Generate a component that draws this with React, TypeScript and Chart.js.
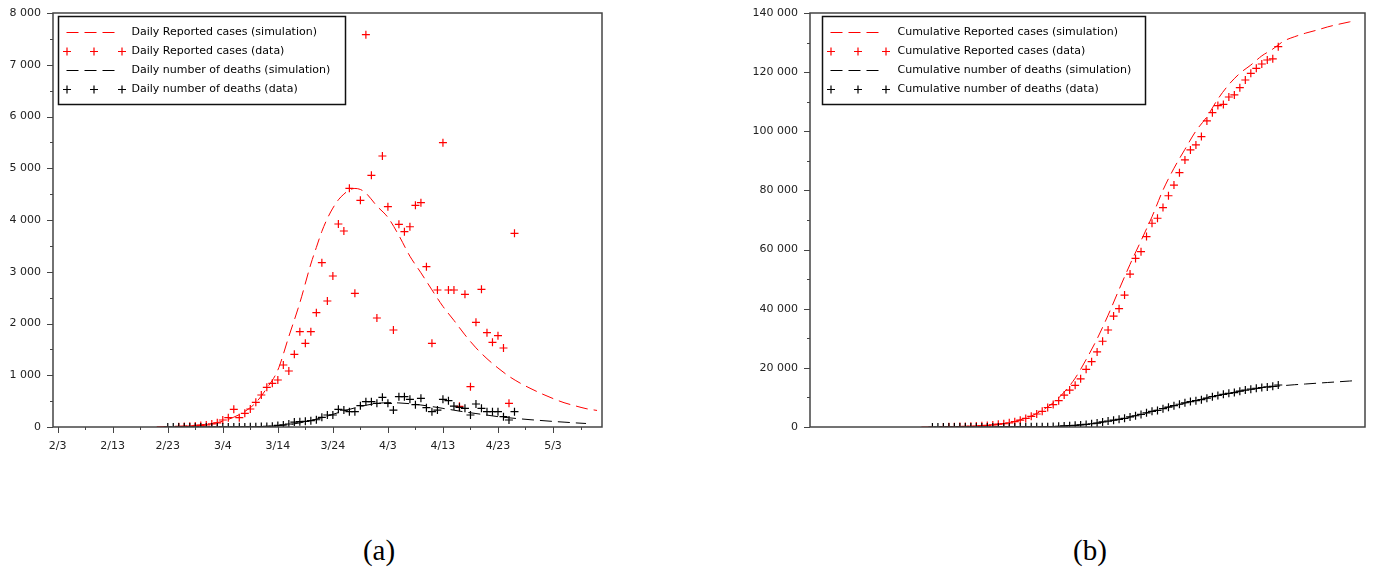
import React, { useEffect, useRef } from 'react';
import { Chart, registerables } from 'chart.js';

Chart.register(...registerables);

// ---------- data (day 0 = Feb 3) ----------
const xTickDays = [0, 10, 20, 30, 40, 50, 60, 70, 80, 90];
const xTickLabels = ['2/3', '2/13', '2/23', '3/4', '3/14', '3/24', '4/3', '4/13', '4/23', '5/3'];

const dailyCasesStart = 22;
const dailyCases = [
  5, 10, 15, 20, 30, 40, 60, 80, 135, 180, 342, 180, 265, 348, 477, 618, 767, 844, 908, 1198,
  1082, 1404, 1842, 1617, 1842, 2209, 3175, 2435, 2918, 3923, 3787, 4612, 2583, 4380, 7581, 4864,
  2106, 5237, 4257, 1874, 3917, 3774, 3870, 4284, 4334, 3098, 1617, 2647, 5494, 2647, 2647, 400,
  2564, 779, 2023, 2661, 1823, 1637, 1765, 1527, 457, 3743,
];

const dailyDeathsStart = 20;
const dailyDeaths = [
  0, 0, 0, 0, 0, 0, 0, 0, 0, 0, 1, 0, 2, 3, 2, 5, 4, 8, 12, 15, 30, 40, 58, 95, 103, 110, 122, 140,
  187, 232, 232, 342, 328, 296, 296, 412, 489, 489, 457, 573, 457, 328, 586, 586, 534, 431, 554,
  373, 296, 328, 534, 508, 405, 380, 361, 232, 444, 361, 296, 296, 296, 199, 135, 296,
];

const simDailyCasesDays = [18, 20, 22, 24, 26, 28, 30, 32, 34, 36, 38, 40, 42, 44, 46, 47, 48, 49, 50, 51, 52, 53, 54, 55, 56, 58, 60, 62, 64, 66, 68, 70, 72, 74, 76, 78, 80, 82, 84, 86, 88, 90, 92, 94, 96, 98];
const simDailyCases = [5, 10, 16, 26, 42, 66, 112, 190, 300, 470, 750, 1100, 1750, 2400, 3150, 3470, 3780, 4030, 4230, 4390, 4500, 4580, 4610, 4590, 4520, 4270, 4050, 3700, 3300, 2980, 2650, 2330, 2060, 1780, 1530, 1320, 1140, 980, 850, 740, 640, 550, 470, 410, 355, 320];

const simDailyDeathsDays = [36, 38, 40, 42, 44, 46, 48, 50, 52, 54, 56, 58, 60, 62, 64, 66, 68, 70, 72, 74, 76, 78, 80, 82, 84, 86, 88, 90, 92, 94, 96];
const simDailyDeaths = [5, 12, 25, 45, 80, 125, 180, 245, 310, 370, 420, 455, 470, 465, 450, 425, 395, 360, 325, 290, 260, 230, 200, 178, 158, 140, 124, 108, 94, 80, 68];

const cumCasesStart = 22;
const cumCases = [
  40, 60, 90, 130, 200, 250, 330, 420, 520, 700, 950, 1130, 1400, 1790, 2300, 2900, 3600, 4400,
  5300, 6600, 7600, 8900, 10800, 12500, 14100, 16300, 19500, 22100, 25400, 29000, 32800, 37500,
  40000, 44600, 51700, 57000, 59300, 64400, 68900, 70600, 74200, 78200, 81800, 86000, 90300,
  93700, 95400, 98200, 103500, 106300, 108700, 109100, 111600, 112300, 114750, 117350, 119600,
  121300, 122760, 124100, 124500, 128600,
];

const cumDeathsStart = 20;
const cumDeaths = [
  0, 0, 0, 0, 0, 0, 0, 0, 0, 0, 5, 8, 12, 18, 25, 35, 48, 60, 75, 90, 100, 120, 160, 240, 350, 450,
  560, 690, 870, 1100, 1330, 1700, 2000, 2300, 2600, 2950, 3400, 3800, 4250, 4800, 5300, 5600,
  6200, 6700, 7200, 7700, 8200, 8600, 8900, 9250, 9750, 10250, 10650, 11050, 11400, 11650, 12100,
  12500, 12800, 13100, 13350, 13550, 13750, 14200,
];

const simCumCasesDays = [18, 20, 22, 24, 26, 28, 30, 32, 34, 36, 38, 40, 42, 44, 46, 48, 50, 52, 54, 56, 58, 60, 62, 64, 66, 68, 70, 72, 74, 76, 78, 80, 82, 84, 86, 88, 90, 92, 94, 96, 97];
const simCumCases = [0, 15, 40, 90, 180, 320, 550, 900, 1500, 2400, 3700, 5600, 8200, 11800, 16500, 22800, 29800, 37800, 46500, 55000, 63000, 71100, 80100, 87500, 93900, 100100, 104900, 110900, 115800, 119600, 122400, 125500, 127800, 130500, 132000, 133200, 134200, 135300, 136200, 137000, 137500];

const simCumDeathsDays = [36, 40, 44, 48, 50, 52, 54, 56, 58, 60, 62, 64, 66, 68, 70, 72, 74, 76, 78, 80, 82, 84, 86, 88, 90, 92, 94, 96, 97];
const simCumDeaths = [0, 60, 300, 900, 1350, 1900, 2600, 3400, 4300, 5300, 6300, 7200, 8100, 8950, 9800, 10700, 11450, 12100, 12700, 13200, 13650, 14000, 14300, 14550, 14800, 15050, 15300, 15550, 15650];

const leftLabels = [
  'Daily Reported cases (simulation)',
  'Daily Reported cases (data)',
  'Daily number of deaths (simulation)',
  'Daily number of deaths (data)',
];
const rightLabels = [
  'Cumulative Reported cases (simulation)',
  'Cumulative Reported cases (data)',
  'Cumulative number of deaths (simulation)',
  'Cumulative number of deaths (data)',
];

const RED = '#ff0000';
const BLACK = '#000000';
const FRAME = '#444444';
const DASH = [12, 6];

// ---------- helpers ----------
const seq = (start: number, vals: number[]) => vals.map((v, i) => ({ x: start + i, y: v }));
const pairs = (days: number[], vals: number[]) => days.map((d, i) => ({ x: d, y: vals[i] }));
const fmt = (v: number) => String(Math.round(v)).replace(/\B(?=(\d{3})+(?!\d))/g, ' ');

const crossDs = (data: any[], color: string) => ({
  data,
  showLine: false,
  pointStyle: 'cross',
  pointRadius: 4,
  pointBorderWidth: 1.2,
  pointBorderColor: color,
  pointBackgroundColor: color,
  borderColor: color,
});
const simDs = (data: any[], color: string) => ({
  data,
  borderColor: color,
  borderWidth: 1,
  borderDash: DASH,
  pointRadius: 0,
  cubicInterpolationMode: 'monotone',
  fill: false,
});

type Cfg = {
  xMin: number; xMax: number; yMax: number; yMajor: number; yMinor: number;
  yAxisW: number; padRight: number; showX: boolean;
  legend: { labels: string[]; dx: number; w: number; sampleX: number; textX: number };
};

function framePlugin(cfg: Cfg) {
  return {
    id: 'frame',
    afterDraw(chart: any) {
      const { ctx, chartArea: a, scales } = chart;
      const xs = scales.x, ys = scales.y;
      ctx.save();
      ctx.strokeStyle = FRAME;
      ctx.lineWidth = 1;
      for (let v = 0; v <= cfg.yMax + 1e-6; v += cfg.yMinor) {
        const py = Math.round(ys.getPixelForValue(v)) + 0.5;
        const major = Math.abs(v / cfg.yMajor - Math.round(v / cfg.yMajor)) < 1e-6;
        const len = major ? 6 : 3;
        ctx.beginPath();
        ctx.moveTo(a.left - len, py);
        ctx.lineTo(a.left, py);
        ctx.stroke();
      }
      if (cfg.showX) {
        for (let d = 0; d <= cfg.xMax; d += 5) {
          const px = Math.round(xs.getPixelForValue(d)) + 0.5;
          const major = d % 10 === 0;
          const len = major ? 6 : 3;
          ctx.beginPath();
          ctx.moveTo(px, a.bottom);
          ctx.lineTo(px, a.bottom + len);
          ctx.stroke();
        }
      }
      ctx.lineWidth = 1.5;
      ctx.strokeRect(a.left, a.top, a.right - a.left, a.bottom - a.top);

      // legend
      const L = cfg.legend;
      const bx = a.left + L.dx, by = a.top + 3.5, bw = L.w, bh = 88;
      ctx.fillStyle = '#ffffff';
      ctx.fillRect(bx, by, bw, bh);
      ctx.strokeStyle = '#111';
      ctx.lineWidth = 1.5;
      ctx.strokeRect(bx, by, bw, bh);
      const rowY = [by + 15.5, by + 34.5, by + 53.5, by + 72.5];
      const kinds = ['line', 'cross', 'line', 'cross'];
      const colors = [RED, RED, BLACK, BLACK];
      ctx.font = '11px "DejaVu Sans"';
      ctx.textBaseline = 'middle';
      ctx.textAlign = 'left';
      L.labels.forEach((lab, i) => {
        const y = rowY[i];
        ctx.strokeStyle = colors[i];
        ctx.lineWidth = 1;
        const sx = bx + L.sampleX;
        if (kinds[i] === 'line') {
          ctx.setLineDash(DASH);
          ctx.beginPath();
          ctx.moveTo(sx, Math.round(y) + 0.5);
          ctx.lineTo(sx + 52, Math.round(y) + 0.5);
          ctx.stroke();
          ctx.setLineDash([]);
        } else {
          ctx.lineWidth = 1.2;
          [0, 27, 55].forEach((o) => {
            const cx = sx + o + 0.5, cy = Math.round(y) + 0.5;
            ctx.beginPath();
            ctx.moveTo(cx - 4, cy); ctx.lineTo(cx + 4, cy);
            ctx.moveTo(cx, cy - 4); ctx.lineTo(cx, cy + 4);
            ctx.stroke();
          });
        }
        ctx.fillStyle = '#000';
        ctx.fillText(lab, bx + L.textX, y + 0.5);
      });
      ctx.restore();
    },
  };
}

function buildChart(canvas: HTMLCanvasElement, cfg: Cfg, datasets: any[]) {
  const yTicks: number[] = [];
  for (let v = 0; v <= cfg.yMax; v += cfg.yMajor) yTicks.push(v);
  return new Chart(canvas, {
    type: 'line',
    data: { datasets },
    options: {
      animation: false,
      responsive: false,
      devicePixelRatio: 1,
      events: [],
      layout: { padding: { top: 13, right: cfg.padRight, left: 0, bottom: 0 } },
      plugins: { legend: { display: false }, tooltip: { enabled: false } },
      scales: {
        x: {
          type: 'linear',
          min: cfg.xMin,
          max: cfg.xMax,
          afterBuildTicks: (s: any) => {
            s.ticks = cfg.showX ? xTickDays.map((v) => ({ value: v })) : [];
          },
          ticks: {
            display: cfg.showX,
            autoSkip: false,
            maxRotation: 0,
            padding: 13,
            color: '#222',
            font: { family: 'DejaVu Sans', size: 11 },
            callback: (v: any) => {
              const i = xTickDays.indexOf(Number(v));
              return i >= 0 ? xTickLabels[i] : '';
            },
          },
          grid: { display: false, drawTicks: false },
          border: { display: false },
          afterFit: (s: any) => {
            s.height = 43;
            s.paddingLeft = 0; s.paddingRight = 0; s.paddingTop = 0; s.paddingBottom = 0;
          },
        },
        y: {
          type: 'linear',
          min: 0,
          max: cfg.yMax,
          afterBuildTicks: (s: any) => { s.ticks = yTicks.map((v) => ({ value: v })); },
          ticks: {
            autoSkip: false,
            padding: 12,
            color: '#222',
            font: { family: 'DejaVu Sans', size: 11 },
            callback: (v: any) => fmt(Number(v)),
          },
          grid: { display: false, drawTicks: false },
          border: { display: false },
          afterFit: (s: any) => {
            s.width = cfg.yAxisW;
            s.paddingLeft = 0; s.paddingRight = 0; s.paddingTop = 0; s.paddingBottom = 0;
          },
        },
      },
    } as any,
    plugins: [framePlugin(cfg)],
  });
}

function Panel(props: { left: number; width: number; cfg: Cfg; datasets: () => any[] }) {
  const ref = useRef<HTMLCanvasElement>(null);
  useEffect(() => {
    if (!ref.current) return;
    const ch = buildChart(ref.current, props.cfg, props.datasets());
    return () => ch.destroy();
  }, []);
  return (
    <canvas
      ref={ref}
      width={props.width}
      height={470}
      style={{ position: 'absolute', left: props.left, top: 0, width: props.width, height: 470 }}
    />
  );
}

const leftCfg: Cfg = {
  xMin: -0.85, xMax: 98.9, yMax: 8000, yMajor: 1000, yMinor: 500,
  yAxisW: 53, padRight: 18, showX: true,
  legend: { labels: leftLabels, dx: 5.5, w: 287, sampleX: 8, textX: 73 },
};
const rightCfg: Cfg = {
  xMin: -2.3, xMax: 98.8, yMax: 140000, yMajor: 20000, yMinor: 10000,
  yAxisW: 110, padRight: 9, showX: false,
  legend: { labels: rightLabels, dx: 12.5, w: 323, sampleX: 8, textX: 75 },
};

const leftDatasets = () => [
  crossDs(seq(dailyDeathsStart, dailyDeaths), BLACK),
  simDs(pairs(simDailyDeathsDays, simDailyDeaths), BLACK),
  crossDs(seq(dailyCasesStart, dailyCases), RED),
  simDs(pairs(simDailyCasesDays, simDailyCases), RED),
];
const rightDatasets = () => [
  crossDs(seq(cumDeathsStart, cumDeaths), BLACK),
  simDs(pairs(simCumDeathsDays, simCumDeaths), BLACK),
  crossDs(seq(cumCasesStart, cumCases), RED),
  simDs(pairs(simCumCasesDays, simCumCases), RED),
];

const captionStyle = (cx: number): React.CSSProperties => ({
  position: 'absolute',
  left: cx - 50,
  width: 100,
  top: 533,
  textAlign: 'center',
  fontFamily: '"Liberation Serif", "DejaVu Serif", serif',
  fontSize: 29,
  lineHeight: '34px',
  color: '#000',
});

export default function App() {
  return (
    <div style={{ position: 'absolute', left: 0, top: 0, width: 1374, height: 569, background: '#fff' }}>
      <Panel left={0} width={620} cfg={leftCfg} datasets={leftDatasets} />
      <Panel left={700} width={674} cfg={rightCfg} datasets={rightDatasets} />
      <div style={captionStyle(379)}>(a)</div>
      <div style={captionStyle(1090)}>(b)</div>
    </div>
  );
}
